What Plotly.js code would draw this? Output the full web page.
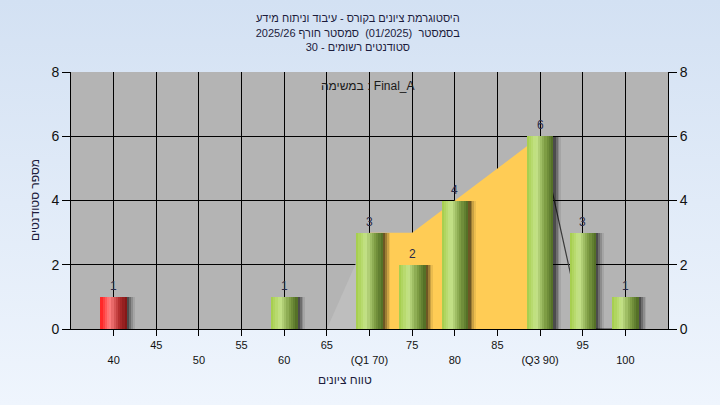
<!DOCTYPE html>
<html><head><meta charset="utf-8">
<script src="https://cdn.plot.ly/plotly-3.0.1.min.js"></script>
<style>
html,body{margin:0;padding:0;width:720px;height:405px;overflow:hidden;background:linear-gradient(#d3e1f3,#eff5fd);}
#chart{width:720px;height:405px;}
</style>
</head><body><div id="chart"></div>
<script>
// ---- data ----
const grades = [40, 60, 70, 75, 80, 90, 95, 100];
const counts = [1, 1, 3, 2, 4, 6, 3, 1];
const failing = [true, false, false, false, false, false, false, false];
const tickValues = [40, 45, 50, 55, 60, 65, 70, 75, 80, 85, 90, 95, 100];
const tickLabels = ['<br>40', '45', '<br>50', '55', '<br>60', '65', '<br>(Q1 70)', '75', '<br>80', '85', '<br>(Q3 90)', '95', '<br>100'];
const yTicks = [0, 2, 4, 6, 8];
const leftTailX = [65, 70];
const leftTailY = [0, 3];
const iqrX = [70, 75, 90];
const iqrY = [3, 3, 6];
const rightTailX = [90, 95, 100];
const rightTailY = [6, 0, 0];
const titleText = 'היסטוגרמת ציונים בקורס - עיבוד וניתוח מידע<br>בסמסטר  (01/2025)  סמסטר חורף 2025/26<br>סטודנטים רשומים - 30';
const taskText = 'במשימה : Final_A';
const xTitle = 'טווח ציונים';
const yTitle = 'מספר סטודנטים';

// ---- styling helpers ----
const FONT = '"Liberation Sans", Arial, sans-serif';
const XR = [35, 105], YR = [0, 8];
const BW = 3.1; // bar width in data units
const NS = 12;  // gradient slices

function hex2rgb(h){return [parseInt(h.substr(1,2),16),parseInt(h.substr(3,2),16),parseInt(h.substr(5,2),16)];}
function mix(a,b,t){return a.map((v,i)=>Math.round(v+(b[i]-v)*t));}
function grad(stops,t){
  for(let i=0;i<stops.length-1;i++){
    const [p0,c0]=stops[i],[p1,c1]=stops[i+1];
    if(t<=p1){return mix(hex2rgb(c0),hex2rgb(c1),(t-p0)/(p1-p0));}
  }
  return hex2rgb(stops[stops.length-1][1]);
}
const greenStops=[[0,'#a3cc48'],[0.35,'#c6e48a'],[0.7,'#7f9e45'],[1,'#4e6a22']];
const redStops=[[0,'#ff1c1c'],[0.35,'#ff8282'],[0.7,'#b53030'],[1,'#7e1414']];

const traces = [];
// areas on main axes (below bars)
traces.push({type:'scatter',x:leftTailX,y:leftTailY,mode:'lines',fill:'tozeroy',fillcolor:'#bebebe',line:{width:0,color:'#bebebe'},hoverinfo:'skip',showlegend:false,xaxis:'x',yaxis:'y'});
traces.push({type:'scatter',x:iqrX,y:iqrY,mode:'lines',fill:'tozeroy',fillcolor:'#ffcc55',line:{width:0,color:'#ffcc55'},hoverinfo:'skip',showlegend:false,xaxis:'x',yaxis:'y'});
traces.push({type:'scatter',x:rightTailX,y:rightTailY,mode:'lines',line:{width:1.2,color:'#3a3a3a'},hoverinfo:'skip',showlegend:false,xaxis:'x',yaxis:'y'});

// soft shadows
[[0.9,0.08],[0.7,0.14],[0.5,0.22],[0.3,0.3]].forEach(([off,a])=>{
  traces.push({type:'bar',x:grades,y:counts,width:BW,offset:-BW/2+off,marker:{color:'rgba(0,0,0,'+a+')',line:{width:0}},hoverinfo:'skip',showlegend:false,xaxis:'x2',yaxis:'y2'});
});

// gradient slices
for(let s=0;s<NS;s++){
  const t=(s+0.5)/NS;
  const cols=failing.map(f=>{const c=grad(f?redStops:greenStops,t);return 'rgb('+c.join(',')+')';});
  traces.push({type:'bar',x:grades,y:counts,width:BW/NS+0.02,offset:-BW/2+s*BW/NS,
    marker:{color:cols,line:{width:0}},hoverinfo:'skip',showlegend:false,xaxis:'x2',yaxis:'y2'});
}

const valueLabels = grades.map((g,i)=>({text:String(counts[i]),x:g,y:counts[i],xref:'x2',yref:'y2',
  xanchor:'center',yanchor:'middle',yshift:11,showarrow:false,font:{family:FONT,size:12,color:'#2a2a48'}}));

const layout = {
  width:720,height:405,
  paper_bgcolor:'rgba(0,0,0,0)',plot_bgcolor:'#b4b4b4',
  margin:{l:71,r:52,t:72,b:76,pad:0},
  barmode:'overlay',bargap:0,
  showlegend:false,
  font:{family:FONT,color:'#111'},
  title:{text:titleText,font:{family:FONT,size:11,color:'#1c1c3c'},x:0.497,xanchor:'center',y:0.945,yanchor:'top',yref:'container'},
  xaxis:{range:XR,tickmode:'array',tickvals:tickValues,ticktext:tickLabels,showgrid:true,gridcolor:'#000',gridwidth:1,
    showline:true,linecolor:'#000',linewidth:1,ticks:'outside',ticklen:6,tickcolor:'#000',zeroline:false,
    tickfont:{family:FONT,size:11,color:'#111'},fixedrange:true},
  yaxis:{range:YR,tickmode:'array',tickvals:yTicks,showgrid:true,gridcolor:'#000',gridwidth:1,
    showline:true,linecolor:'#000',linewidth:1,ticks:'outside',ticklen:8,tickcolor:'#000',zeroline:false,
    tickfont:{family:FONT,size:14,color:'#111'},fixedrange:true},
  xaxis2:{range:XR,overlaying:'x',visible:false,fixedrange:true},
  yaxis2:{range:YR,overlaying:'y',side:'right',tickmode:'array',tickvals:yTicks,showgrid:false,zeroline:false,
    showline:true,linecolor:'#000',linewidth:1,ticks:'outside',ticklen:8,tickcolor:'#000',
    tickfont:{family:FONT,size:14,color:'#111'},fixedrange:true},
  annotations:[
    {text:taskText,xref:'paper',yref:'paper',x:0.4975,y:0.9455,xanchor:'center',yanchor:'middle',showarrow:false,font:{family:FONT,size:12,color:'#1a1a1a'}},
    {text:xTitle,xref:'paper',yref:'paper',x:0.459,y:-0.198,xanchor:'center',yanchor:'middle',showarrow:false,font:{family:FONT,size:12,color:'#1c1c3c'}},
    {text:yTitle,xref:'paper',yref:'paper',x:-0.0603,y:0.502,xanchor:'center',yanchor:'middle',textangle:-90,showarrow:false,font:{family:FONT,size:12,color:'#1c1c3c'}}
  ].concat(valueLabels)
};
Plotly.newPlot('chart',traces,layout,{displayModeBar:false,staticPlot:true});
</script>
</body></html>
